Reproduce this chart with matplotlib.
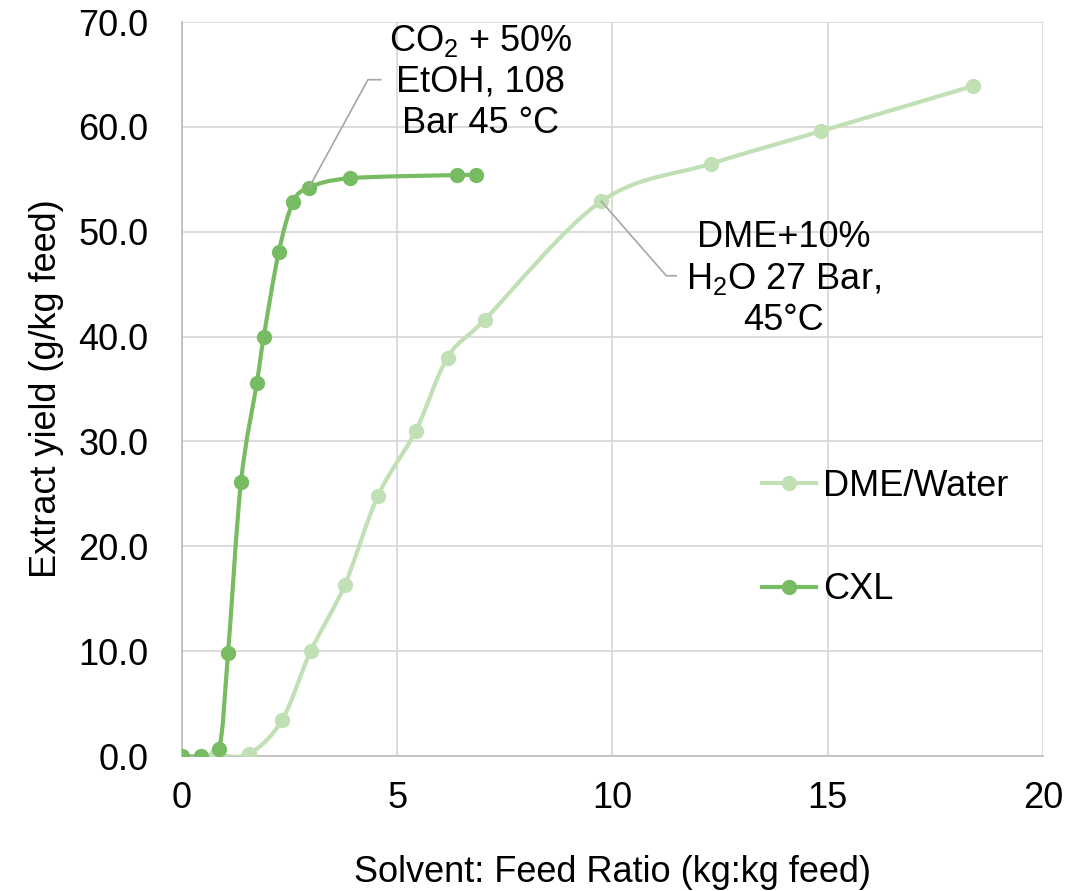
import numpy as np
import matplotlib
matplotlib.use("Agg")
import matplotlib.pyplot as plt
from matplotlib.path import Path
from matplotlib.patches import PathPatch

plt.rcParams['font.family'] = ['Liberation Sans', 'DejaVu Sans']
plt.rcParams['mathtext.fontset'] = 'custom'
plt.rcParams['mathtext.rm'] = 'Liberation Sans'
plt.rcParams['mathtext.it'] = 'Liberation Sans'

# data
cxl_x = [0.0, 0.44, 0.86, 1.07, 1.37, 1.74, 1.90, 2.25, 2.58, 2.95, 3.90, 6.38, 6.84]
cxl_y = [0.0, 0.0, 0.7, 9.8, 26.1, 35.6, 40.0, 48.1, 52.8, 54.2, 55.1, 55.4, 55.4]

dme_x = [0.79, 1.55, 2.32, 2.99, 3.78, 4.55, 5.43, 6.17, 7.03, 9.74, 12.3, 14.85, 18.38]
dme_y = [0.1, 0.2, 3.4, 10.0, 16.3, 24.8, 31.0, 38.0, 41.6, 52.9, 56.5, 59.6, 63.9]

x_ticks = [0, 5, 10, 15, 20]
y_ticks = [0, 10, 20, 30, 40, 50, 60, 70]

c_cxl = '#77bb62'
c_dme = '#c1e0b5'
fs = 26


def smooth_path(ax, xs, ys):
    # excel-style smoothed line: cubic bezier segments built in screen space
    tr = ax.transData
    p = tr.transform(np.column_stack([xs, ys]))
    verts = [p[0]]
    codes = [Path.MOVETO]
    n = len(p)
    for i in range(n - 1):
        p0 = p[i - 1] if i > 0 else p[i]
        p1 = p[i]
        p2 = p[i + 1]
        p3 = p[i + 2] if i + 2 < n else p[i + 1]
        verts += [p1 + (p2 - p0) / 6, p2 - (p3 - p1) / 6, p2]
        codes += [Path.CURVE4] * 3
    return Path(tr.inverted().transform(np.array(verts)), codes)


fig = plt.figure(figsize=(10.66, 8.91), dpi=100)
ax = fig.add_axes([0.1707, 0.1515, 0.8077, 0.8238])
ax.set_xlim(0, 20)
ax.set_ylim(0, 70)

for xs, ys, c in [(dme_x, dme_y, c_dme), (cxl_x, cxl_y, c_cxl)]:
    ax.add_patch(PathPatch(smooth_path(ax, xs, ys), fill=False, edgecolor=c, lw=3, zorder=3))

ax.plot(dme_x, dme_y, 'o', color=c_dme, ms=10, zorder=4)
ax.plot(cxl_x, cxl_y, 'o', color=c_cxl, ms=10, zorder=5)

# legend handles
ax.plot([], [], '-o', color=c_dme, lw=3, ms=10, label='DME/Water')
ax.plot([], [], '-o', color=c_cxl, lw=3, ms=10, label='CXL')
ax.legend(loc='center left', bbox_to_anchor=(0.636, 0.297), frameon=False,
          fontsize=fs, labelspacing=1.9, handlelength=1.5, handletextpad=0.2)

ax.set_xticks(x_ticks)
ax.set_yticks(y_ticks)
ax.set_yticklabels([f'{v:.1f}' for v in y_ticks])
ax.tick_params(length=0, labelsize=fs)
ax.tick_params(axis='x', pad=18)
ax.tick_params(axis='y', pad=24)
ax.grid(True, color='#d9d9d9', lw=1.3)
ax.set_axisbelow(True)
for s in ['top', 'right']:
    ax.spines[s].set_visible(False)
for s in ['left', 'bottom']:
    ax.spines[s].set_color('#bfbfbf')
    ax.spines[s].set_linewidth(1.3)

ax.set_xlabel('Solvent: Feed Ratio (kg:kg feed)', fontsize=fs, labelpad=28)
ax.set_ylabel('Extract yield (g/kg feed)', fontsize=fs, labelpad=10)

# callouts
ax.plot([cxl_x[9], 4.32, 4.62], [cxl_y[9], 64.5, 64.5], color='#a6a6a6', lw=1.2, zorder=6)
ax.text(6.94, 64.3, 'CO$_2$ + 50%\nEtOH, 108\nBar 45 °C', ha='center', va='center',
        fontsize=fs, linespacing=1.22)
ax.plot([dme_x[9], 11.25, 11.48], [dme_y[9], 45.8, 45.8], color='#a6a6a6', lw=1.2, zorder=6)
ax.text(13.97, 45.5, 'DME+10%\nH$_2$O 27 Bar,\n45°C', ha='center', va='center',
        fontsize=fs, linespacing=1.22)

fig.savefig('out.png', dpi=100)
